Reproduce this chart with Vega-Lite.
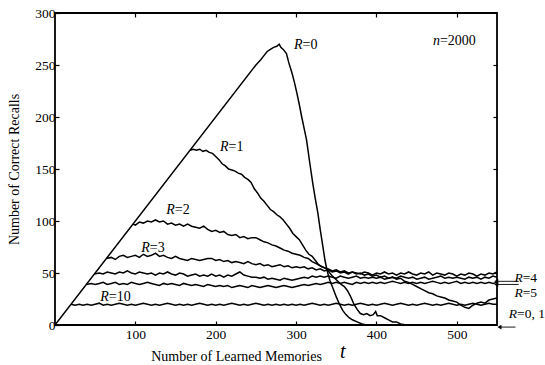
{
  "$schema": "https://vega.github.io/schema/vega-lite/v6.json",
  "width": 442,
  "height": 312,
  "autosize": "none",
  "padding": {"left": 55, "top": 13, "right": 48, "bottom": 40},
  "background": "white",
  "config": {
    "view": {"stroke": "black", "strokeWidth": 1.8},
    "axis": {
      "labelFont": "Liberation Serif", "titleFont": "Liberation Serif",
      "labelFontSize": 13.5, "titleFontSize": 14, "titleFontWeight": "normal",
      "labelColor": "black", "titleColor": "black", "tickColor": "black",
      "grid": false, "domain": false, "tickSize": -4, "tickWidth": 1.2
    }
  },
  "datasets": {
    "curves": [
      {"R":"0","t":0,"n":0},{"R":"0","t":250,"n":250},{"R":"0","t":256,"n":255},{"R":"0","t":260,"n":259},{"R":"0","t":264,"n":263},{"R":"0","t":268,"n":265},{"R":"0","t":272,"n":267},{"R":"0","t":276,"n":268},{"R":"0","t":279,"n":270},{"R":"0","t":281,"n":267},{"R":"0","t":284,"n":265},{"R":"0","t":288,"n":261},{"R":"0","t":291,"n":252},{"R":"0","t":295,"n":242},{"R":"0","t":298,"n":233},{"R":"0","t":301,"n":223},{"R":"0","t":304,"n":212},{"R":"0","t":307,"n":200},{"R":"0","t":310,"n":189},{"R":"0","t":313,"n":178},{"R":"0","t":317,"n":156},{"R":"0","t":321,"n":135},{"R":"0","t":324,"n":121},{"R":"0","t":327,"n":108},{"R":"0","t":330,"n":92},{"R":"0","t":332,"n":82},{"R":"0","t":336,"n":62},{"R":"0","t":339,"n":51},{"R":"0","t":342,"n":43},{"R":"0","t":346,"n":35},{"R":"0","t":350,"n":27},{"R":"0","t":354,"n":20},{"R":"0","t":358,"n":14},{"R":"0","t":362,"n":10},{"R":"0","t":366,"n":7},{"R":"0","t":370,"n":5},{"R":"0","t":376,"n":3},{"R":"0","t":382,"n":1},{"R":"0","t":388,"n":0},{"R":"0","t":550,"n":0},
      {"R":"1","t":168,"n":168},{"R":"1","t":172,"n":169},{"R":"1","t":176,"n":168},{"R":"1","t":180,"n":169},{"R":"1","t":184,"n":167},{"R":"1","t":188,"n":168},{"R":"1","t":192,"n":166},{"R":"1","t":196,"n":165},{"R":"1","t":200,"n":162},{"R":"1","t":204,"n":159},{"R":"1","t":208,"n":155},{"R":"1","t":212,"n":153},{"R":"1","t":216,"n":150},{"R":"1","t":220,"n":149},{"R":"1","t":224,"n":148},{"R":"1","t":228,"n":146},{"R":"1","t":232,"n":145},{"R":"1","t":236,"n":142},{"R":"1","t":240,"n":140},{"R":"1","t":244,"n":137},{"R":"1","t":248,"n":131},{"R":"1","t":252,"n":127},{"R":"1","t":256,"n":122},{"R":"1","t":260,"n":119},{"R":"1","t":264,"n":115},{"R":"1","t":268,"n":111},{"R":"1","t":272,"n":109},{"R":"1","t":276,"n":106},{"R":"1","t":280,"n":104},{"R":"1","t":284,"n":101},{"R":"1","t":288,"n":97},{"R":"1","t":292,"n":93},{"R":"1","t":296,"n":88},{"R":"1","t":300,"n":85},{"R":"1","t":304,"n":82},{"R":"1","t":308,"n":77},{"R":"1","t":312,"n":72},{"R":"1","t":316,"n":68},{"R":"1","t":320,"n":66},{"R":"1","t":324,"n":62},{"R":"1","t":328,"n":58},{"R":"1","t":332,"n":56},{"R":"1","t":336,"n":55},{"R":"1","t":340,"n":52},{"R":"1","t":344,"n":48},{"R":"1","t":348,"n":45},{"R":"1","t":352,"n":42},{"R":"1","t":356,"n":39},{"R":"1","t":360,"n":37},{"R":"1","t":364,"n":33},{"R":"1","t":368,"n":27},{"R":"1","t":372,"n":20},{"R":"1","t":376,"n":15},{"R":"1","t":380,"n":11},{"R":"1","t":384,"n":10},{"R":"1","t":388,"n":11},{"R":"1","t":392,"n":9},{"R":"1","t":396,"n":10},{"R":"1","t":399,"n":13},{"R":"1","t":401,"n":9},{"R":"1","t":405,"n":9},{"R":"1","t":410,"n":7},{"R":"1","t":415,"n":5},{"R":"1","t":420,"n":3},{"R":"1","t":425,"n":3},{"R":"1","t":430,"n":1},{"R":"1","t":437,"n":0},{"R":"1","t":550,"n":0},
      {"R":"2","t":97,"n":97},{"R":"2","t":100,"n":96},{"R":"2","t":105,"n":99},{"R":"2","t":110,"n":98},{"R":"2","t":115,"n":100},{"R":"2","t":120,"n":99},{"R":"2","t":125,"n":101},{"R":"2","t":130,"n":99},{"R":"2","t":135,"n":100},{"R":"2","t":140,"n":97},{"R":"2","t":145,"n":98},{"R":"2","t":150,"n":96},{"R":"2","t":155,"n":97},{"R":"2","t":160,"n":95},{"R":"2","t":165,"n":97},{"R":"2","t":170,"n":95},{"R":"2","t":175,"n":94},{"R":"2","t":180,"n":93},{"R":"2","t":185,"n":95},{"R":"2","t":190,"n":92},{"R":"2","t":195,"n":90},{"R":"2","t":200,"n":91},{"R":"2","t":205,"n":89},{"R":"2","t":210,"n":90},{"R":"2","t":215,"n":87},{"R":"2","t":220,"n":86},{"R":"2","t":225,"n":87},{"R":"2","t":230,"n":84},{"R":"2","t":235,"n":85},{"R":"2","t":240,"n":83},{"R":"2","t":245,"n":84},{"R":"2","t":250,"n":84},{"R":"2","t":255,"n":82},{"R":"2","t":260,"n":80},{"R":"2","t":265,"n":79},{"R":"2","t":270,"n":77},{"R":"2","t":275,"n":76},{"R":"2","t":280,"n":74},{"R":"2","t":285,"n":72},{"R":"2","t":290,"n":71},{"R":"2","t":295,"n":69},{"R":"2","t":300,"n":68},{"R":"2","t":305,"n":67},{"R":"2","t":310,"n":65},{"R":"2","t":315,"n":64},{"R":"2","t":320,"n":61},{"R":"2","t":325,"n":59},{"R":"2","t":330,"n":57},{"R":"2","t":335,"n":55},{"R":"2","t":340,"n":54},{"R":"2","t":345,"n":52},{"R":"2","t":350,"n":53},{"R":"2","t":355,"n":51},{"R":"2","t":360,"n":52},{"R":"2","t":365,"n":50},{"R":"2","t":370,"n":51},{"R":"2","t":375,"n":49},{"R":"2","t":380,"n":50},{"R":"2","t":385,"n":48},{"R":"2","t":390,"n":49},{"R":"2","t":395,"n":47},{"R":"2","t":400,"n":48},{"R":"2","t":405,"n":46},{"R":"2","t":410,"n":47},{"R":"2","t":415,"n":45},{"R":"2","t":420,"n":46},{"R":"2","t":425,"n":44},{"R":"2","t":430,"n":45},{"R":"2","t":435,"n":42},{"R":"2","t":440,"n":41},{"R":"2","t":445,"n":39},{"R":"2","t":450,"n":37},{"R":"2","t":455,"n":35},{"R":"2","t":460,"n":33},{"R":"2","t":465,"n":31},{"R":"2","t":470,"n":30},{"R":"2","t":475,"n":28},{"R":"2","t":480,"n":27},{"R":"2","t":485,"n":26},{"R":"2","t":490,"n":24},{"R":"2","t":495,"n":23},{"R":"2","t":500,"n":22},{"R":"2","t":505,"n":19},{"R":"2","t":510,"n":17},{"R":"2","t":515,"n":16},{"R":"2","t":520,"n":19},{"R":"2","t":525,"n":21},{"R":"2","t":530,"n":22},{"R":"2","t":535,"n":21},{"R":"2","t":540,"n":24},{"R":"2","t":545,"n":25},{"R":"2","t":550,"n":26},
      {"R":"3","t":64,"n":64},{"R":"3","t":70,"n":65},{"R":"3","t":75,"n":63},{"R":"3","t":80,"n":66},{"R":"3","t":85,"n":67},{"R":"3","t":90,"n":65},{"R":"3","t":95,"n":66},{"R":"3","t":100,"n":67},{"R":"3","t":105,"n":65},{"R":"3","t":110,"n":68},{"R":"3","t":115,"n":66},{"R":"3","t":120,"n":67},{"R":"3","t":125,"n":69},{"R":"3","t":130,"n":66},{"R":"3","t":135,"n":67},{"R":"3","t":140,"n":65},{"R":"3","t":145,"n":64},{"R":"3","t":150,"n":66},{"R":"3","t":155,"n":64},{"R":"3","t":160,"n":63},{"R":"3","t":165,"n":62},{"R":"3","t":170,"n":64},{"R":"3","t":175,"n":63},{"R":"3","t":180,"n":62},{"R":"3","t":185,"n":63},{"R":"3","t":190,"n":64},{"R":"3","t":195,"n":64},{"R":"3","t":200,"n":62},{"R":"3","t":205,"n":63},{"R":"3","t":210,"n":61},{"R":"3","t":215,"n":62},{"R":"3","t":220,"n":60},{"R":"3","t":225,"n":61},{"R":"3","t":230,"n":60},{"R":"3","t":235,"n":59},{"R":"3","t":240,"n":61},{"R":"3","t":245,"n":59},{"R":"3","t":250,"n":58},{"R":"3","t":255,"n":59},{"R":"3","t":260,"n":57},{"R":"3","t":265,"n":58},{"R":"3","t":270,"n":56},{"R":"3","t":275,"n":57},{"R":"3","t":280,"n":58},{"R":"3","t":285,"n":56},{"R":"3","t":290,"n":57},{"R":"3","t":295,"n":55},{"R":"3","t":300,"n":56},{"R":"3","t":305,"n":55},{"R":"3","t":310,"n":56},{"R":"3","t":315,"n":54},{"R":"3","t":320,"n":55},{"R":"3","t":325,"n":53},{"R":"3","t":330,"n":54},{"R":"3","t":335,"n":52},{"R":"3","t":340,"n":53},{"R":"3","t":345,"n":51},{"R":"3","t":350,"n":52},{"R":"3","t":355,"n":50},{"R":"3","t":360,"n":51},{"R":"3","t":365,"n":49},{"R":"3","t":370,"n":51},{"R":"3","t":375,"n":50},{"R":"3","t":380,"n":49},{"R":"3","t":385,"n":51},{"R":"3","t":390,"n":50},{"R":"3","t":395,"n":48},{"R":"3","t":400,"n":50},{"R":"3","t":405,"n":49},{"R":"3","t":410,"n":51},{"R":"3","t":415,"n":49},{"R":"3","t":420,"n":50},{"R":"3","t":425,"n":48},{"R":"3","t":430,"n":50},{"R":"3","t":435,"n":49},{"R":"3","t":440,"n":51},{"R":"3","t":445,"n":49},{"R":"3","t":450,"n":48},{"R":"3","t":455,"n":50},{"R":"3","t":460,"n":49},{"R":"3","t":465,"n":51},{"R":"3","t":470,"n":48},{"R":"3","t":475,"n":50},{"R":"3","t":480,"n":49},{"R":"3","t":485,"n":48},{"R":"3","t":490,"n":50},{"R":"3","t":495,"n":49},{"R":"3","t":500,"n":47},{"R":"3","t":505,"n":49},{"R":"3","t":510,"n":48},{"R":"3","t":515,"n":50},{"R":"3","t":520,"n":49},{"R":"3","t":525,"n":47},{"R":"3","t":530,"n":49},{"R":"3","t":535,"n":48},{"R":"3","t":540,"n":50},{"R":"3","t":545,"n":49},{"R":"3","t":550,"n":51},
      {"R":"4","t":49,"n":49},{"R":"4","t":55,"n":50},{"R":"4","t":60,"n":49},{"R":"4","t":65,"n":51},{"R":"4","t":70,"n":50},{"R":"4","t":75,"n":49},{"R":"4","t":80,"n":51},{"R":"4","t":85,"n":50},{"R":"4","t":90,"n":52},{"R":"4","t":95,"n":50},{"R":"4","t":100,"n":49},{"R":"4","t":105,"n":51},{"R":"4","t":110,"n":50},{"R":"4","t":115,"n":49},{"R":"4","t":120,"n":50},{"R":"4","t":125,"n":48},{"R":"4","t":130,"n":50},{"R":"4","t":135,"n":49},{"R":"4","t":140,"n":51},{"R":"4","t":145,"n":49},{"R":"4","t":150,"n":48},{"R":"4","t":155,"n":50},{"R":"4","t":160,"n":49},{"R":"4","t":165,"n":47},{"R":"4","t":170,"n":48},{"R":"4","t":175,"n":49},{"R":"4","t":180,"n":47},{"R":"4","t":185,"n":48},{"R":"4","t":190,"n":47},{"R":"4","t":195,"n":49},{"R":"4","t":200,"n":47},{"R":"4","t":205,"n":48},{"R":"4","t":210,"n":46},{"R":"4","t":215,"n":48},{"R":"4","t":220,"n":47},{"R":"4","t":225,"n":49},{"R":"4","t":230,"n":51},{"R":"4","t":235,"n":48},{"R":"4","t":240,"n":47},{"R":"4","t":245,"n":46},{"R":"4","t":250,"n":46},{"R":"4","t":255,"n":45},{"R":"4","t":260,"n":46},{"R":"4","t":265,"n":44},{"R":"4","t":270,"n":45},{"R":"4","t":275,"n":44},{"R":"4","t":280,"n":43},{"R":"4","t":285,"n":45},{"R":"4","t":290,"n":44},{"R":"4","t":295,"n":43},{"R":"4","t":300,"n":44},{"R":"4","t":305,"n":45},{"R":"4","t":310,"n":46},{"R":"4","t":315,"n":45},{"R":"4","t":320,"n":47},{"R":"4","t":325,"n":46},{"R":"4","t":330,"n":47},{"R":"4","t":335,"n":46},{"R":"4","t":340,"n":47},{"R":"4","t":345,"n":46},{"R":"4","t":350,"n":45},{"R":"4","t":355,"n":47},{"R":"4","t":360,"n":46},{"R":"4","t":365,"n":45},{"R":"4","t":370,"n":46},{"R":"4","t":375,"n":47},{"R":"4","t":380,"n":45},{"R":"4","t":385,"n":46},{"R":"4","t":390,"n":45},{"R":"4","t":395,"n":46},{"R":"4","t":400,"n":45},{"R":"4","t":405,"n":46},{"R":"4","t":410,"n":44},{"R":"4","t":415,"n":45},{"R":"4","t":420,"n":46},{"R":"4","t":425,"n":45},{"R":"4","t":430,"n":47},{"R":"4","t":435,"n":46},{"R":"4","t":440,"n":45},{"R":"4","t":445,"n":46},{"R":"4","t":450,"n":44},{"R":"4","t":455,"n":45},{"R":"4","t":460,"n":46},{"R":"4","t":465,"n":44},{"R":"4","t":470,"n":45},{"R":"4","t":475,"n":46},{"R":"4","t":480,"n":47},{"R":"4","t":485,"n":45},{"R":"4","t":490,"n":46},{"R":"4","t":495,"n":45},{"R":"4","t":500,"n":46},{"R":"4","t":505,"n":45},{"R":"4","t":510,"n":44},{"R":"4","t":515,"n":46},{"R":"4","t":520,"n":45},{"R":"4","t":525,"n":46},{"R":"4","t":530,"n":44},{"R":"4","t":535,"n":46},{"R":"4","t":540,"n":45},{"R":"4","t":545,"n":47},{"R":"4","t":550,"n":46},
      {"R":"5","t":39,"n":39},{"R":"5","t":45,"n":40},{"R":"5","t":50,"n":39},{"R":"5","t":55,"n":40},{"R":"5","t":60,"n":41},{"R":"5","t":65,"n":39},{"R":"5","t":70,"n":40},{"R":"5","t":75,"n":41},{"R":"5","t":80,"n":39},{"R":"5","t":85,"n":40},{"R":"5","t":90,"n":39},{"R":"5","t":95,"n":41},{"R":"5","t":100,"n":40},{"R":"5","t":105,"n":39},{"R":"5","t":110,"n":40},{"R":"5","t":115,"n":41},{"R":"5","t":120,"n":40},{"R":"5","t":125,"n":39},{"R":"5","t":130,"n":38},{"R":"5","t":135,"n":40},{"R":"5","t":140,"n":39},{"R":"5","t":145,"n":40},{"R":"5","t":150,"n":39},{"R":"5","t":155,"n":38},{"R":"5","t":160,"n":40},{"R":"5","t":165,"n":39},{"R":"5","t":170,"n":38},{"R":"5","t":175,"n":39},{"R":"5","t":180,"n":38},{"R":"5","t":185,"n":37},{"R":"5","t":190,"n":39},{"R":"5","t":195,"n":38},{"R":"5","t":200,"n":37},{"R":"5","t":205,"n":38},{"R":"5","t":210,"n":37},{"R":"5","t":215,"n":38},{"R":"5","t":220,"n":36},{"R":"5","t":225,"n":37},{"R":"5","t":230,"n":38},{"R":"5","t":235,"n":37},{"R":"5","t":240,"n":36},{"R":"5","t":245,"n":38},{"R":"5","t":250,"n":37},{"R":"5","t":255,"n":36},{"R":"5","t":260,"n":37},{"R":"5","t":265,"n":38},{"R":"5","t":270,"n":37},{"R":"5","t":275,"n":36},{"R":"5","t":280,"n":37},{"R":"5","t":285,"n":38},{"R":"5","t":290,"n":37},{"R":"5","t":295,"n":36},{"R":"5","t":300,"n":37},{"R":"5","t":305,"n":38},{"R":"5","t":310,"n":39},{"R":"5","t":315,"n":38},{"R":"5","t":320,"n":39},{"R":"5","t":325,"n":40},{"R":"5","t":330,"n":39},{"R":"5","t":335,"n":40},{"R":"5","t":340,"n":41},{"R":"5","t":345,"n":40},{"R":"5","t":350,"n":41},{"R":"5","t":355,"n":40},{"R":"5","t":360,"n":41},{"R":"5","t":365,"n":40},{"R":"5","t":370,"n":39},{"R":"5","t":375,"n":41},{"R":"5","t":380,"n":40},{"R":"5","t":385,"n":41},{"R":"5","t":390,"n":40},{"R":"5","t":395,"n":41},{"R":"5","t":400,"n":40},{"R":"5","t":405,"n":41},{"R":"5","t":410,"n":40},{"R":"5","t":415,"n":41},{"R":"5","t":420,"n":42},{"R":"5","t":425,"n":41},{"R":"5","t":430,"n":40},{"R":"5","t":435,"n":41},{"R":"5","t":440,"n":40},{"R":"5","t":445,"n":41},{"R":"5","t":450,"n":40},{"R":"5","t":455,"n":41},{"R":"5","t":460,"n":40},{"R":"5","t":465,"n":41},{"R":"5","t":470,"n":42},{"R":"5","t":475,"n":41},{"R":"5","t":480,"n":40},{"R":"5","t":485,"n":41},{"R":"5","t":490,"n":40},{"R":"5","t":495,"n":41},{"R":"5","t":500,"n":42},{"R":"5","t":505,"n":40},{"R":"5","t":510,"n":41},{"R":"5","t":515,"n":40},{"R":"5","t":520,"n":41},{"R":"5","t":525,"n":40},{"R":"5","t":530,"n":41},{"R":"5","t":535,"n":40},{"R":"5","t":540,"n":41},{"R":"5","t":545,"n":40},{"R":"5","t":550,"n":41},
      {"R":"10","t":20,"n":20},{"R":"10","t":25,"n":19},{"R":"10","t":30,"n":20},{"R":"10","t":35,"n":19},{"R":"10","t":40,"n":20},{"R":"10","t":45,"n":19},{"R":"10","t":50,"n":20},{"R":"10","t":55,"n":21},{"R":"10","t":60,"n":19},{"R":"10","t":65,"n":20},{"R":"10","t":70,"n":19},{"R":"10","t":75,"n":20},{"R":"10","t":80,"n":21},{"R":"10","t":85,"n":20},{"R":"10","t":90,"n":19},{"R":"10","t":95,"n":20},{"R":"10","t":100,"n":19},{"R":"10","t":105,"n":20},{"R":"10","t":110,"n":21},{"R":"10","t":115,"n":20},{"R":"10","t":120,"n":19},{"R":"10","t":125,"n":20},{"R":"10","t":130,"n":19},{"R":"10","t":135,"n":20},{"R":"10","t":140,"n":21},{"R":"10","t":145,"n":20},{"R":"10","t":150,"n":19},{"R":"10","t":155,"n":20},{"R":"10","t":160,"n":19},{"R":"10","t":165,"n":20},{"R":"10","t":170,"n":19},{"R":"10","t":175,"n":20},{"R":"10","t":180,"n":21},{"R":"10","t":185,"n":20},{"R":"10","t":190,"n":19},{"R":"10","t":195,"n":20},{"R":"10","t":200,"n":19},{"R":"10","t":205,"n":20},{"R":"10","t":210,"n":19},{"R":"10","t":215,"n":20},{"R":"10","t":220,"n":21},{"R":"10","t":225,"n":20},{"R":"10","t":230,"n":19},{"R":"10","t":235,"n":20},{"R":"10","t":240,"n":19},{"R":"10","t":245,"n":20},{"R":"10","t":250,"n":21},{"R":"10","t":255,"n":20},{"R":"10","t":260,"n":19},{"R":"10","t":265,"n":20},{"R":"10","t":270,"n":19},{"R":"10","t":275,"n":20},{"R":"10","t":280,"n":19},{"R":"10","t":285,"n":20},{"R":"10","t":290,"n":19},{"R":"10","t":295,"n":20},{"R":"10","t":300,"n":19},{"R":"10","t":305,"n":20},{"R":"10","t":310,"n":19},{"R":"10","t":315,"n":20},{"R":"10","t":320,"n":21},{"R":"10","t":325,"n":20},{"R":"10","t":330,"n":19},{"R":"10","t":335,"n":20},{"R":"10","t":340,"n":19},{"R":"10","t":345,"n":20},{"R":"10","t":350,"n":21},{"R":"10","t":355,"n":20},{"R":"10","t":360,"n":19},{"R":"10","t":365,"n":20},{"R":"10","t":370,"n":19},{"R":"10","t":375,"n":20},{"R":"10","t":380,"n":21},{"R":"10","t":385,"n":20},{"R":"10","t":390,"n":19},{"R":"10","t":395,"n":20},{"R":"10","t":400,"n":19},{"R":"10","t":405,"n":20},{"R":"10","t":410,"n":21},{"R":"10","t":415,"n":20},{"R":"10","t":420,"n":19},{"R":"10","t":425,"n":20},{"R":"10","t":430,"n":21},{"R":"10","t":435,"n":20},{"R":"10","t":440,"n":19},{"R":"10","t":445,"n":20},{"R":"10","t":450,"n":19},{"R":"10","t":455,"n":20},{"R":"10","t":460,"n":21},{"R":"10","t":465,"n":20},{"R":"10","t":470,"n":19},{"R":"10","t":475,"n":20},{"R":"10","t":480,"n":19},{"R":"10","t":485,"n":20},{"R":"10","t":490,"n":21},{"R":"10","t":495,"n":20},{"R":"10","t":500,"n":19},{"R":"10","t":505,"n":20},{"R":"10","t":510,"n":19},{"R":"10","t":515,"n":20},{"R":"10","t":520,"n":21},{"R":"10","t":525,"n":20},{"R":"10","t":530,"n":19},{"R":"10","t":535,"n":20},{"R":"10","t":540,"n":21},{"R":"10","t":545,"n":20},{"R":"10","t":550,"n":20}
    ],
    "labels": [
      {"t":308,"n":269,"a":"R","b":"=0","s":14},
      {"t":216,"n":171,"a":"R","b":"=1","s":14},
      {"t":149,"n":111,"a":"R","b":"=2","s":14},
      {"t":118,"n":74,"a":"R","b":"=3","s":14},
      {"t":67,"n":27,"a":"R","b":"=10","s":14},
      {"t":479,"n":273,"a":"n","b":"=2000","s":14},
      {"t":582,"n":45,"a":"R","b":"=4","s":13.5},
      {"t":582,"n":31,"a":"R","b":"=5","s":13.5},
      {"t":575,"n":11,"a":"R","b":"=0, 1","s":13.5}
    ],
    "arrows": [
      {"t":549,"t2":577,"n":42},
      {"t":549,"t2":577,"n":39},
      {"t":553,"t2":573,"n":-2}
    ]
  },
  "resolve": {"axis": {"x": "independent", "y": "independent"}},
  "layer": [
    {
      "data": {"name": "curves"},
      "mark": {"type": "line", "color": "black", "strokeWidth": 1.5, "clip": true},
      "encoding": {
        "x": {"field": "t", "type": "quantitative", "scale": {"domain": [0, 550], "nice": false},
          "axis": {"orient": "bottom", "values": [100, 200, 300, 400, 500], "title": "Number of Learned Memories", "labelPadding": 6, "titleX": 181, "titleY": 31, "titleAlign": "center", "titleBaseline": "middle"}},
        "y": {"field": "n", "type": "quantitative", "scale": {"domain": [0, 300], "nice": false},
          "axis": {"orient": "left", "values": [0, 50, 100, 150, 200, 250, 300], "title": "Number of Correct Recalls", "labelPadding": 4, "titleX": -41, "titleBaseline": "middle"}},
        "detail": {"field": "R", "type": "nominal"}
      }
    },
    {
      "data": {"values": [{"t": 0, "n": 0}]},
      "mark": {"type": "point", "opacity": 0},
      "encoding": {
        "x": {"field": "t", "type": "quantitative", "scale": {"domain": [0, 550], "nice": false},
          "axis": {"orient": "top", "values": [100, 200, 300, 400, 500], "labels": false, "title": null}},
        "y": {"field": "n", "type": "quantitative", "scale": {"domain": [0, 300], "nice": false},
          "axis": {"orient": "right", "values": [50, 100, 150, 200, 250], "labels": false, "title": null}}
      }
    },
    {
      "data": {"name": "labels"},
      "mark": {"type": "text", "font": "Liberation Serif", "fontStyle": "italic", "align": "right", "baseline": "middle", "color": "black"},
      "encoding": {
        "x": {"field": "t", "type": "quantitative", "scale": {"domain": [0, 550], "nice": false}, "axis": null},
        "y": {"field": "n", "type": "quantitative", "scale": {"domain": [0, 300], "nice": false}, "axis": null},
        "text": {"field": "a"},
        "size": {"field": "s", "type": "quantitative", "scale": null}
      }
    },
    {
      "data": {"name": "labels"},
      "mark": {"type": "text", "font": "Liberation Serif", "align": "left", "baseline": "middle", "color": "black"},
      "encoding": {
        "x": {"field": "t", "type": "quantitative", "scale": {"domain": [0, 550], "nice": false}, "axis": null},
        "y": {"field": "n", "type": "quantitative", "scale": {"domain": [0, 300], "nice": false}, "axis": null},
        "text": {"field": "b"},
        "size": {"field": "s", "type": "quantitative", "scale": null}
      }
    },
    {
      "data": {"name": "arrows"},
      "mark": {"type": "rule", "color": "black", "strokeWidth": 0.9},
      "encoding": {
        "x": {"field": "t", "type": "quantitative", "scale": {"domain": [0, 550], "nice": false}, "axis": null},
        "x2": {"field": "t2"},
        "y": {"field": "n", "type": "quantitative", "scale": {"domain": [0, 300], "nice": false}, "axis": null}
      }
    },
    {
      "data": {"name": "arrows"},
      "mark": {"type": "point", "shape": "triangle-left", "filled": true, "color": "black", "size": 22, "opacity": 1},
      "encoding": {
        "x": {"field": "t", "type": "quantitative", "scale": {"domain": [0, 550], "nice": false}, "axis": null},
        "y": {"field": "n", "type": "quantitative", "scale": {"domain": [0, 300], "nice": false}, "axis": null}
      }
    },
    {
      "data": {"values": [{"t": 358, "n": -26, "s": "t"}]},
      "mark": {"type": "text", "font": "Liberation Serif", "fontStyle": "italic", "fontSize": 20, "align": "center", "baseline": "middle", "color": "black"},
      "encoding": {
        "x": {"field": "t", "type": "quantitative", "scale": {"domain": [0, 550], "nice": false}, "axis": null},
        "y": {"field": "n", "type": "quantitative", "scale": {"domain": [0, 300], "nice": false}, "axis": null},
        "text": {"field": "s"}
      }
    }
  ]
}
